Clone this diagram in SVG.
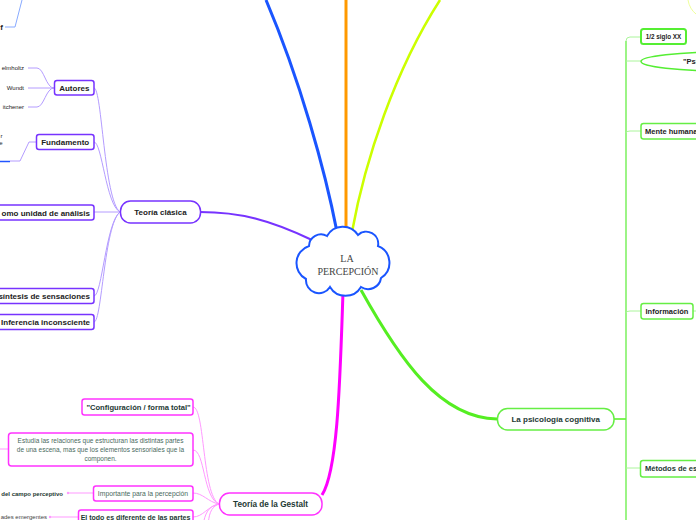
<svg xmlns="http://www.w3.org/2000/svg" width="696" height="520" viewBox="0 0 696 520">
<style>
.t{font-family:"Liberation Sans",Arial,sans-serif}
.b{font-weight:bold}
.c{text-anchor:middle}
.e{text-anchor:end}
.pr{fill:#fff;stroke:#7733ff;stroke-width:1.5}
.mg{fill:#fff;stroke:#ff33ff;stroke-width:1.5}
.gr{fill:#fff;stroke:#66ee44;stroke-width:1.5}
.lp{fill:none;stroke:#b49cff;stroke-width:1}
.lm{fill:none;stroke:#ff99ff;stroke-width:1}
.lg{fill:none;stroke:#aaf59a;stroke-width:1}
.k{fill:#222}
.d{fill:#1e3a34}
</style>
<g id="connectors">
  <path d="M337 232 C325 170 300 80 266 0" fill="none" stroke="#1a55ff" stroke-width="3"/>
  <path d="M346 232 L346 0" fill="none" stroke="#ff9900" stroke-width="3"/>
  <path d="M352 232 C365 160 395 70 440 0" fill="none" stroke="#ccff00" stroke-width="2.5"/>
  <path d="M200 212 C240 212 270 220 312 240" fill="none" stroke="#7733ff" stroke-width="2.2"/>
  <path d="M343 292 C340 380 338 470 322 495" fill="none" stroke="#ff00ff" stroke-width="3"/>
  <path d="M361 290 C400 360 440 418 497 419" fill="none" stroke="#55ee22" stroke-width="3"/>
  <path d="M688 0 C689 6 692 11 696 14" fill="none" stroke="#eeff99" stroke-width="1"/>
  <!-- top-left blue child -->
  <path d="M5 27 L15 27 L22 0" fill="none" stroke="#88aaff" stroke-width="1"/>
  <!-- clasica children -->
  <path class="lp" d="M94 88 C102 88 104 200 120 212"/>
  <path class="lp" d="M94 142 C102 142 106 205 120 212"/>
  <path class="lp" d="M94 212 L120 212"/>
  <path class="lp" d="M94 296 C102 296 106 222 120 212"/>
  <path class="lp" d="M94 322 C102 322 104 225 120 212"/>
  <path class="lp" d="M54 88 C46 88 44 68 37 68 L28 68"/>
  <path class="lp" d="M54 88 L28 88"/>
  <path class="lp" d="M54 88 C46 88 44 107 37 107 L28 107"/>
  <path class="lp" d="M36 142 L29 142 L20 161 L10 161"/>
  <path d="M-5 161.5 L10 161.5" stroke="#2255ff" stroke-width="1.5"/>
  <!-- gestalt children -->
  <path class="lm" d="M193 407 C205 407 202 495 219 504"/>
  <path class="lm" d="M193 450 C205 450 203 498 219 504"/>
  <path class="lm" d="M193 493 C203 493 208 502 219 504"/>
  <path class="lm" d="M193 517 C203 517 208 506 219 504"/>
  <path class="lm" d="M219 504 C208 506 205 514 203 525"/>
  <path class="lm" d="M219 504 C210 507 209 516 208 525"/>
  <path class="lm" d="M0 449 L8 449"/>
  <path class="lm" d="M93 493 L68 493"/>
  <circle cx="68" cy="493" r="1.2" fill="#ff99ff"/>
  <path class="lm" d="M78 517 L50 517"/>
  <circle cx="50" cy="517" r="1.2" fill="#ff99ff"/>
  <!-- cognitive -->
  <path d="M614 419 L626 419" fill="none" stroke="#55ee22" stroke-width="1.5"/>
  <path d="M626 520 L626 41" fill="none" stroke="#66ee44" stroke-width="1.3"/>
  <path class="lg" d="M626 41 Q626 37 630 37 L641 37"/>
  <path class="lg" d="M626 61 L641 61"/>
  <path class="lg" d="M626 133 Q626 131 630 131 L641 131"/>
  <path class="lg" d="M626 313 Q626 311 630 311 L641 311"/>
  <path class="lg" d="M626 468 L640 468"/>
  <path class="lg" d="M693 311 L696 311"/>
</g>
<g id="center">
  <path d="M309 246 A12 12 0 0 1 327 236 A18 18 0 0 1 358 235 A12 12 0 0 1 378 246 A18 18 0 0 1 381 278 A13 13 0 0 1 361 287 A18 18 0 0 1 330 287 A13 13 0 0 1 306 279 A18 18 0 0 1 309 246 Z" fill="#fff" stroke="#1a55ff" stroke-width="2"/>
  <text class="c" x="347" y="262" font-family="Liberation Serif,serif" font-size="10" fill="#444">LA</text>
  <text class="c" x="348" y="275" font-family="Liberation Serif,serif" font-size="10" fill="#444">PERCEPCIÓN</text>
</g>
<g id="n-f"><text class="t b e k" x="3" y="30" font-size="8">f</text></g>
<g id="n-clasica">
  <rect class="pr" x="120.5" y="201" width="80" height="22" rx="10"/>
  <text class="t b c k" x="160.5" y="215" font-size="8">Teoría clásica</text>
</g>
<g id="n-autores">
  <rect class="pr" x="54.5" y="80.5" width="39.5" height="14.5" rx="2.5"/>
  <text class="t b c k" x="74.3" y="90.8" font-size="8">Autores</text>
</g>
<g id="n-helmholtz"><text class="t e k" x="24" y="70" font-size="6">elmholtz</text></g>
<g id="n-wundt"><text class="t e k" x="24" y="90" font-size="6">Wundt</text></g>
<g id="n-titchener"><text class="t e k" x="24" y="109" font-size="6">itchener</text></g>
<g id="n-fundamento">
  <rect class="pr" x="36.5" y="134.5" width="57.5" height="15" rx="2.5"/>
  <text class="t b c k" x="65.2" y="145" font-size="8">Fundamento</text>
</g>
<g id="n-fund-child">
  <text class="t e k" x="2.5" y="138" font-size="6">r</text>
  <text class="t e k" x="2.5" y="145" font-size="6">e</text>
</g>
<g id="n-unidad">
  <rect class="pr" x="-70" y="205" width="164" height="15" rx="2.5"/>
  <text class="t b e k" x="90" y="215.5" font-size="8">omo unidad de análisis</text>
</g>
<g id="n-sintesis">
  <rect class="pr" x="-70" y="288.5" width="164" height="15" rx="2.5"/>
  <text class="t b e k" x="90" y="299" font-size="8">síntesis de sensaciones</text>
</g>
<g id="n-inferencia">
  <rect class="pr" x="-70" y="314.5" width="164" height="15" rx="2.5"/>
  <text class="t b e k" x="90" y="325" font-size="8">Inferencia inconsciente</text>
</g>
<g id="n-gestalt">
  <rect class="mg" x="219.5" y="493" width="102.5" height="22" rx="10"/>
  <text class="t b c d" x="270.5" y="507" font-size="8.2">Teoría de la Gestalt</text>
</g>
<g id="n-config">
  <rect class="mg" x="82" y="399" width="111" height="16" rx="2.5"/>
  <text class="t b c d" x="138.5" y="410" font-size="7.6">"Configuración / forma total"</text>
</g>
<g id="n-estudia">
  <rect class="mg" x="8.5" y="433" width="184.5" height="33" rx="3"/>
  <text class="t c" x="100.5" y="443" font-size="6.5" fill="#4a6a60">Estudia las relaciones que estructuran las distintas partes</text>
  <text class="t c" x="100.5" y="452" font-size="6.5" fill="#4a6a60">de una escena, mas que los elementos sensoriales que la</text>
  <text class="t c" x="100.5" y="461" font-size="6.5" fill="#4a6a60">componen.</text>
</g>
<g id="n-importante">
  <rect class="mg" x="93.5" y="486" width="99.5" height="15" rx="2.5"/>
  <text class="t c" x="143" y="496" font-size="6.8" fill="#4a6a60">Importante para la percepción</text>
</g>
<g id="n-campo"><text class="t b e d" x="63" y="496" font-size="6">del campo perceptivo</text></g>
<g id="n-todo">
  <rect class="mg" x="78.5" y="510" width="114.5" height="16" rx="2.5"/>
  <text class="t b c d" x="135.5" y="520" font-size="7">El todo es diferente de las partes</text>
</g>
<g id="n-emergentes"><text class="t e" x="47" y="519" font-size="6" fill="#444">ades emergentes</text></g>
<g id="n-cognitiva">
  <rect class="gr" x="497.5" y="408.5" width="116.5" height="21.5" rx="10"/>
  <text class="t b c d" x="555.7" y="422" font-size="8">La psicología cognitiva</text>
</g>
<g id="n-siglo">
  <rect x="641" y="29" width="45" height="15" rx="2.5" fill="#fff" stroke="#55ee33" stroke-width="2"/>
  <text class="t b c k" x="663.5" y="39.2" font-size="6.3">1/2 siglo XX</text>
</g>
<g id="n-psi">
  <ellipse cx="726" cy="61.5" rx="85" ry="9.5" fill="#fff" stroke="#55ee33" stroke-width="1.5"/>
  <text class="t b k" x="683" y="64" font-size="7.5">"Psi</text>
</g>
<g id="n-mente">
  <rect class="gr" x="641" y="123.5" width="70" height="15.5" rx="2.5"/>
  <text class="t b k" x="645" y="134" font-size="7.5">Mente humana</text>
</g>
<g id="n-informacion">
  <rect class="gr" x="641" y="303.5" width="52" height="15.5" rx="2.5"/>
  <text class="t c k" x="667" y="314" font-size="7.5" font-weight="600">Información</text>
</g>
<g id="n-metodos">
  <rect class="gr" x="640.5" y="460.5" width="70" height="16.5" rx="2.5"/>
  <text class="t b d" x="645" y="471" font-size="7.5">Métodos de es</text>
</g>
</svg>
